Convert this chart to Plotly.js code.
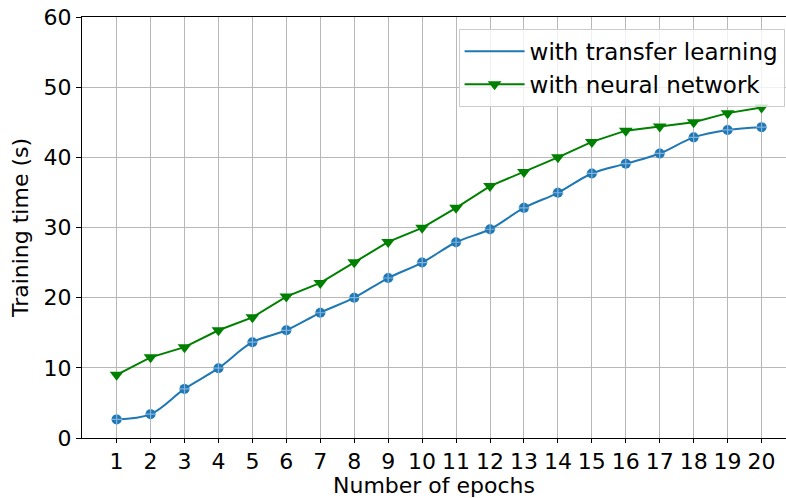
<!DOCTYPE html>
<html>
<head>
<meta charset="utf-8">
<script src="https://cdn.plot.ly/plotly-3.0.1.min.js"></script>
<style>html,body{margin:0;padding:0;background:#fff;}#chart{width:786px;height:498px;}</style>
</head>
<body>
<div id="chart"></div>
<script>
const epochs = [1,2,3,4,5,6,7,8,9,10,11,12,13,14,15,16,17,18,19,20];
const transferTime = [2.65,3.4,7.0,9.95,13.65,15.35,17.85,20.0,22.8,25.0,27.9,29.75,32.8,34.95,37.7,39.1,40.55,42.85,43.9,44.3];
const neuralTime = [9.0,11.5,12.95,15.35,17.2,20.15,22.1,25.05,27.95,29.95,32.8,35.9,37.9,40.0,42.2,43.8,44.4,45.0,46.3,47.1];
const xTickLabels = epochs.map(String);
const yTicks = [0,10,20,30,40,50,60];

const FONT = 'DejaVu Sans, sans-serif';
const FS = 22;
const blue = '#1f77b4';
const green = '#008000';

const traces = [
  {
    x: epochs, y: transferTime, type: 'scatter', mode: 'lines',
    name: 'with transfer learning',
    line: {color: blue, width: 2, shape: 'spline', smoothing: 1}
  },
  {
    x: epochs, y: transferTime, type: 'scatter', mode: 'markers',
    showlegend: false, hoverinfo: 'skip',
    marker: {symbol: 'circle', size: 10, color: blue, line: {width: 0}}
  },
  {
    x: epochs, y: transferTime, type: 'scatter', mode: 'markers',
    showlegend: false, hoverinfo: 'skip',
    marker: {symbol: 'cross-thin', size: 8, color: 'rgba(255,255,255,0.35)', line: {width: 1.2, color: 'rgba(140,185,225,0.9)'}}
  },
  {
    x: epochs, y: neuralTime, type: 'scatter', mode: 'lines+markers',
    name: 'with neural network',
    line: {color: green, width: 2},
    marker: {symbol: 'triangle-down', size: 12, color: green}
  }
];

const layout = {
  width: 786, height: 498,
  margin: {l: 82, r: 0, t: 17, b: 60, pad: 0},
  paper_bgcolor: '#ffffff', plot_bgcolor: '#ffffff',
  font: {family: FONT, size: FS, color: '#000'},
  showlegend: true,
  legend: {
    x: 0.998, xanchor: 'right', y: 0.972, yanchor: 'top',
    bgcolor: 'rgba(255,255,255,0.8)', bordercolor: '#cccccc', borderwidth: 1,
    font: {family: FONT, size: 23, color: '#000'},
    itemwidth: 60
  },
  xaxis: {
    range: [-0.02, 20.72],
    tickmode: 'array', tickvals: epochs, ticktext: xTickLabels,
    showgrid: true, gridcolor: '#b8b8b8', gridwidth: 1,
    zeroline: false,
    showline: true, linecolor: '#000', linewidth: 1, mirror: true,
    ticks: 'outside', ticklen: 4, tickwidth: 1, tickcolor: '#000',
    tickfont: {family: FONT, size: FS, color: '#000'},
    title: {text: 'Number of epochs', font: {family: FONT, size: FS, color: '#000'}, standoff: 5}
  },
  yaxis: {
    range: [0, 60],
    tickmode: 'array', tickvals: yTicks, ticktext: yTicks.map(String),
    showgrid: true, gridcolor: '#b8b8b8', gridwidth: 1,
    zeroline: false,
    showline: true, linecolor: '#000', linewidth: 1,
    ticks: 'outside', ticklen: 5, tickwidth: 1, tickcolor: '#000',
    tickfont: {family: FONT, size: FS, color: '#000'},
    title: {text: 'Training time (s)', font: {family: FONT, size: FS, color: '#000'}, standoff: 8}
  }
};

Plotly.newPlot('chart', traces, layout, {displayModeBar: false, staticPlot: true});
</script>
</body>
</html>
